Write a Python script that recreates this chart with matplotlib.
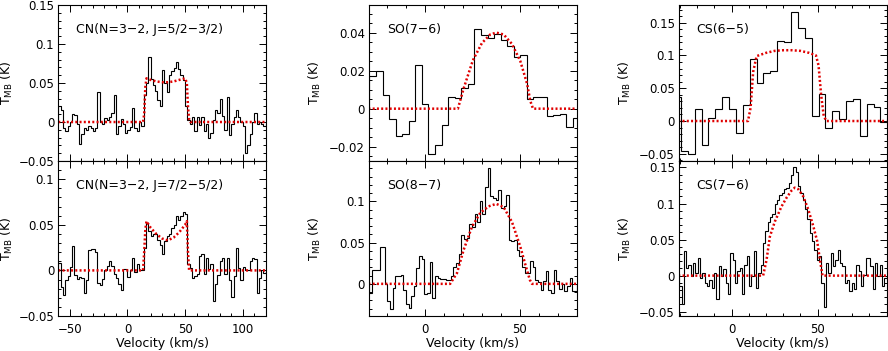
import numpy as np
import matplotlib
matplotlib.use('Agg')
import matplotlib.pyplot as plt
from matplotlib.ticker import MultipleLocator, FuncFormatter

plt.rcParams['font.family'] = 'DejaVu Sans'

# ---- CN(N=3-2, J=5/2-3/2) : 2 km/s channels starting at -60 km/s
cn1_start, cn1_width = -60.0, 2.0
cn1_T = [0.02, 0.015, -0.008, -0.012, -0.005, 0.0, 0.01, 0.009, -0.003, -0.028,
         -0.015, -0.008, -0.01, -0.005, -0.008, -0.012, -0.008, 0.039, 0.0, -0.003,
         0.005, 0.002, 0.007, 0.012, 0.034, -0.015, -0.005, 0.004, -0.002, -0.014,
         -0.01, -0.006, 0.018, -0.008, -0.012, 0.0, -0.005, 0.035, 0.05, 0.083,
         0.055, 0.048, 0.04, 0.028, 0.02, 0.067, 0.05, 0.038, 0.06, 0.066,
         0.069, 0.077, 0.068, 0.06, 0.054, 0.02, 0.002, -0.002, 0.007, -0.012,
         0.007, -0.004, 0.006, -0.012, -0.002, -0.02, -0.014, 0.003, 0.016, 0.012,
         0.03, 0.008, -0.01, 0.032, -0.017, -0.002, 0.007, 0.016, 0.007, 0.0,
         -0.005, -0.04, -0.03, -0.015, 0.0, 0.012, -0.003, 0.0, -0.002, -0.005]
cn1_model_v = [-60, 13.5, 14.5, 15.5, 16.5, 20, 25, 30, 35, 40, 45, 50, 51.5, 52.5, 53.5, 54.5, 120]
cn1_model_T = [0, 0, 0.01, 0.045, 0.056, 0.054, 0.052, 0.051, 0.051, 0.052, 0.054, 0.056, 0.05, 0.02, 0.003, 0, 0]

# ---- CN(N=3-2, J=7/2-5/2)
cn2_start, cn2_width = -60.0, 2.0
cn2_T = [0.008, -0.018, -0.027, -0.011, -0.006, 0.004, 0.027, -0.005, -0.009, -0.007,
         -0.008, -0.025, -0.01, 0.022, 0.024, 0.023, 0.02, -0.014, -0.016, -0.009,
         0.0, 0.005, 0.01, 0.005, -0.004, -0.008, -0.015, -0.022, 0.002, 0.002,
         -0.007, 0.0, 0.014, -0.002, 0.007, 0.0, 0.0, 0.025, 0.052, 0.043,
         0.038, 0.04, 0.04, 0.033, 0.028, 0.018, 0.032, 0.038, 0.04, 0.047,
         0.05, 0.06, 0.055, 0.06, 0.064, 0.062, 0.007, 0.003, -0.008, -0.006,
         -0.004, 0.016, 0.018, -0.004, 0.014, 0.002, 0.007, -0.034, -0.015, -0.005,
         0.01, 0.014, -0.004, 0.014, -0.01, -0.029, -0.006, 0.025, 0.003, -0.01,
         0.004, 0.0, 0.0, 0.01, 0.014, 0.012, -0.025, -0.008, 0.0, -0.003]
cn2_model_v = [-60, 13.5, 14.5, 15.5, 16.5, 20, 25, 30, 35, 40, 45, 50, 51.5, 52.5, 53.5, 120]
cn2_model_T = [0, 0, 0.02, 0.045, 0.054, 0.047, 0.04, 0.035, 0.033, 0.036, 0.042, 0.05, 0.054, 0.02, 0, 0]

# ---- SO(7-6)
so1_start, so1_width = -29.5, 3.47
so1_T = [0.017, 0.02, 0.007, -0.0056, -0.0146, -0.0135, -0.0067, 0.0228, 0.0026, -0.024,
         -0.019, -0.0088, 0.006, 0.0056, 0.011, 0.013, 0.042, 0.0386, 0.037, 0.0395,
         0.036, 0.033, 0.027, 0.028, 0.005, 0.006, 0.006, -0.004, -0.0035, -0.003,
         -0.0096, -0.005]
so1_model_v = [-30, 17.3, 20.3, 25.2, 30, 34.4, 37.6, 41.5, 45.9, 50.3, 53.9, 55.6, 57.0, 80]
so1_model_T = [0, 0, 0.0105, 0.0254, 0.0345, 0.039, 0.04, 0.039, 0.034, 0.025, 0.013, 0.004, 0, 0]

# ---- SO(8-7)
so2_start, so2_width = -29.7, 1.395
so2_T = [-0.011, 0.017, 0.017, 0.017, 0.045, 0.045, 0.0, -0.021, -0.031, -0.005,
         0.009, 0.009, 0.011, -0.007, -0.024, -0.029, -0.015, -0.003, 0.019, 0.034,
         0.03, -0.012, -0.011, 0.027, -0.017, 0.0097, 0.007, 0.006, 0.0056, 0.005,
         0.005, 0.009, 0.02, 0.025, 0.036, 0.059, 0.054, 0.056, 0.072, 0.069,
         0.085, 0.075, 0.1, 0.085, 0.118, 0.14, 0.106, 0.104, 0.102, 0.114,
         0.092, 0.095, 0.108, 0.053, 0.052, 0.053, 0.041, 0.034, 0.021, 0.013,
         0.013, 0.028, 0.02, 0.005, 0.002, -0.007, 0.003, 0.015, -0.007, -0.011,
         0.017, 0.004, -0.006, 0.0, -0.009, -0.003, 0.007, -0.009, -0.009]
so2_model_v = [-30, 13.2, 16.8, 20.3, 24.7, 29.1, 33.5, 37.6, 41.5, 45.9, 50.3, 53.0, 55.3, 56.5, 80]
so2_model_T = [0, 0, 0.013, 0.041, 0.069, 0.086, 0.094, 0.097, 0.093, 0.075, 0.045, 0.023, 0.005, 0, 0]

# ---- CS(6-5)
cs1_start, cs1_width = -33.5, 4.0
cs1_T = [0.037, -0.045, -0.05, 0.019, -0.036, 0.004, 0.018, 0.036, 0.018, -0.019,
         0.024, 0.095, 0.058, 0.074, 0.077, 0.122, 0.12, 0.167, 0.142, 0.126,
         0.008, 0.041, -0.011, 0.015, 0.003, 0.03, 0.033, -0.023, 0.026, 0.022,
         -0.002]
cs1_model_v = [-31, 9.5, 11, 12.5, 14.5, 20, 25, 30, 35, 40, 45, 49, 50.5, 52, 53.5, 55, 90]
cs1_model_T = [0, 0, 0.02, 0.075, 0.099, 0.104, 0.107, 0.108, 0.108, 0.107, 0.104, 0.1, 0.085, 0.04, 0.008, 0, 0]

# ---- CS(7-6)
cs2_start, cs2_width = -30.5, 1.355
cs2_T = [-0.015, -0.039, 0.034, 0.01, 0.015, -0.001, 0.018, 0.004, 0.025, -0.003,
         0.004, -0.01, -0.015, -0.006, -0.017, 0.004, -0.033, 0.013, 0.0, 0.009,
         -0.01, -0.026, 0.031, 0.022, -0.01, 0.006, 0.011, -0.025, 0.015, 0.027,
         -0.015, 0.0, 0.034, -0.017, 0.004, 0.015, 0.045, 0.062, 0.075, 0.082,
         0.085, 0.1, 0.105, 0.112, 0.115, 0.12, 0.122, 0.129, 0.139, 0.15,
         0.144, 0.124, 0.115, 0.105, 0.092, 0.078, 0.059, 0.048, 0.035, 0.022,
         0.027, -0.01, -0.043, 0.018, 0.004, 0.031, 0.013, 0.022, 0.036, 0.018,
         0.013, -0.01, -0.006, -0.022, -0.01, -0.019, 0.015, 0.006, -0.015, 0.001,
         0.025, 0.025, 0.013, -0.019, 0.018, 0.0, 0.015, -0.015, -0.003]
cs2_model_v = [-31, 18.3, 20.3, 22.2, 25.1, 29, 31.9, 34.8, 36.7, 38.7, 41.6, 44.5, 47.4, 49.7, 51.3, 52.8, 90]
cs2_model_T = [0, 0, 0.022, 0.054, 0.075, 0.096, 0.108, 0.118, 0.122, 0.12, 0.11, 0.092, 0.069, 0.048, 0.022, 0, 0]


def tick_fmt(y, pos):
    s = '%g' % round(y, 4)
    if s == '-0':
        s = '0'
    return s.replace('-', '\u2212')


def draw_panel(ax, start, width, T, mv, mT, label, xlim, ylim, ymajor, yminor, bottom, ylab_x):
    T = np.array(T)
    edges = start + width * np.arange(len(T) + 1)
    ax.stairs(T, edges, color='black', linewidth=0.8)
    ax.plot(mv, mT, color='#e00000', linewidth=1.8, linestyle=(0, (0.8, 0.9)))
    ax.set_xlim(*xlim)
    ax.set_ylim(*ylim)
    ax.xaxis.set_major_locator(MultipleLocator(50))
    ax.xaxis.set_minor_locator(MultipleLocator(10))
    ax.yaxis.set_major_locator(MultipleLocator(ymajor))
    ax.yaxis.set_minor_locator(MultipleLocator(yminor))
    ax.yaxis.set_major_formatter(FuncFormatter(tick_fmt))
    ax.xaxis.set_major_formatter(FuncFormatter(tick_fmt))
    ax.tick_params(which='both', direction='in', top=True, right=True, width=0.7,
                   labelsize=8.5, colors='black')
    ax.tick_params(which='major', length=5)
    ax.tick_params(which='minor', length=2.5)
    ax.tick_params(axis='y', pad=3)
    ax.tick_params(axis='x', pad=5)
    if not bottom:
        ax.tick_params(axis='x', labelbottom=False)
    else:
        ax.set_xlabel('Velocity (km/s)', fontsize=9, labelpad=1)
    for sp in ax.spines.values():
        sp.set_linewidth(0.8)
    ax.set_ylabel(r'T$_{\rm MB}$ (K)', fontsize=9)
    ax.yaxis.set_label_coords(ylab_x, 0.5)
    ax.text(0.085, 0.845, label, transform=ax.transAxes, fontsize=9, va='center', ha='left')


fig = plt.figure(figsize=(8.88, 3.51), dpi=100)

col_x = [58.3 / 888, 369 / 888, 679 / 888]
col_w = 207.5 / 888
top_b, top_h = 1 - 161 / 351, 156 / 351
bot_b, bot_h = 1 - 316 / 351, 155 / 351

ax1 = fig.add_axes([col_x[0], top_b, col_w, top_h])
ax2 = fig.add_axes([col_x[0], bot_b, col_w, bot_h])
ax3 = fig.add_axes([col_x[1], top_b, col_w, top_h])
ax4 = fig.add_axes([col_x[1], bot_b, col_w, bot_h])
ax5 = fig.add_axes([col_x[2], top_b, col_w, top_h])
ax6 = fig.add_axes([col_x[2], bot_b, col_w, bot_h])

draw_panel(ax1, cn1_start, cn1_width, cn1_T, cn1_model_v, cn1_model_T,
           'CN(N=3\u22122, J=5/2\u22123/2)', (-60, 120), (-0.05, 0.15), 0.05, 0.01, False, -0.21)
draw_panel(ax2, cn2_start, cn2_width, cn2_T, cn2_model_v, cn2_model_T,
           'CN(N=3\u22122, J=7/2\u22125/2)', (-60, 120), (-0.05, 0.12), 0.05, 0.01, True, -0.21)
draw_panel(ax3, so1_start, so1_width, so1_T, so1_model_v, so1_model_T,
           'SO(7\u22126)', (-29.7, 80), (-0.0275, 0.0545), 0.02, 0.005, False, -0.222)
draw_panel(ax4, so2_start, so2_width, so2_T, so2_model_v, so2_model_T,
           'SO(8\u22127)', (-29.7, 80), (-0.039, 0.149), 0.05, 0.01, True, -0.222)
draw_panel(ax5, cs1_start, cs1_width, cs1_T, cs1_model_v, cs1_model_T,
           'CS(6\u22125)', (-30.6, 90), (-0.061, 0.177), 0.05, 0.01, False, -0.222)
draw_panel(ax6, cs2_start, cs2_width, cs2_T, cs2_model_v, cs2_model_T,
           'CS(7\u22126)', (-30.6, 90), (-0.056, 0.159), 0.05, 0.01, True, -0.222)

fig.savefig('out.png', dpi=100)
